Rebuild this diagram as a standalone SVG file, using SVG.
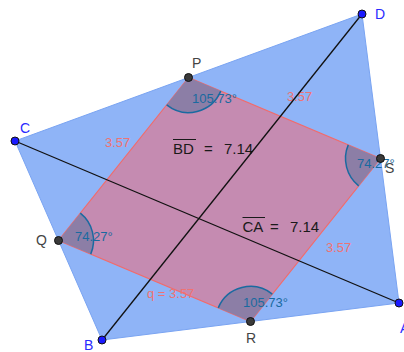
<svg xmlns="http://www.w3.org/2000/svg" width="404" height="352" viewBox="0 0 404 352">
<style>
  text { font-family: "Liberation Sans", Arial, sans-serif; }
  .outer { fill: #8fb4f7; stroke: #7aa4f2; stroke-width: 1; }
  .inner { fill: #c58bb1; stroke: #f26b6b; stroke-width: 1.2; }
  .sector { fill: #8c7ea6; stroke: none; }
  .arc { fill: none; stroke: #1a6aa0; stroke-width: 1.5; }
  .diag { stroke: #111; stroke-width: 1.3; }
  .len { fill: #f07272; font-size: 13px; }
  .ang { fill: #1a6aa0; font-size: 13px; }
  .eq { fill: #1a1a1a; font-size: 15px; }
  .ovl { stroke: #1a1a1a; stroke-width: 1; }
  .pv { fill: #1a1aff; stroke: #111; stroke-width: 1; }
  .pm { fill: #3a3a3a; stroke: #111; stroke-width: 1; }
  .lv { fill: #2a2aff; font-size: 14px; }
  .lm { fill: #444; font-size: 14px; }
</style>
<g id="shapes">
  <polygon class="outer" points="399,303 102,340 15,141 362,14"/>
  <polygon class="inner" points="188.5,77.5 58.5,240.5 250.5,321.5 380.5,158.5"/>
  <path class="sector" d="M188.5,77.5 L166.68,104.86 A35,35 0 0 0 220.75,91.1 Z"/>
  <path class="arc" d="M166.68,104.86 A35,35 0 0 0 220.75,91.1"/>
  <path class="sector" d="M58.5,240.5 L80.32,213.14 A35,35 0 0 1 90.75,254.1 Z"/>
  <path class="arc" d="M80.32,213.14 A35,35 0 0 1 90.75,254.1"/>
  <path class="sector" d="M250.5,321.5 L218.25,307.9 A35,35 0 0 1 272.32,294.14 Z"/>
  <path class="arc" d="M218.25,307.9 A35,35 0 0 1 272.32,294.14"/>
  <path class="sector" d="M380.5,158.5 L358.68,185.86 A35,35 0 0 1 348.25,144.9 Z"/>
  <path class="arc" d="M358.68,185.86 A35,35 0 0 1 348.25,144.9"/>
</g>
<g id="labels">
  <text class="len" x="105" y="147">3.57</text>
  <text class="len" x="287" y="101">3.57</text>
  <text class="len" x="326" y="252">3.57</text>
  <text class="len" x="147" y="298">q = 3.57</text>
  <text class="ang" x="192" y="103">105.73°</text>
  <text class="ang" x="357" y="168">74.27°</text>
  <text class="ang" x="75" y="241">74.27°</text>
  <text class="ang" x="243" y="307">105.73°</text>
  <text class="eq" x="173" y="154">BD</text>
  <line class="ovl" x1="173" y1="139.5" x2="196" y2="139.5"/>
  <text class="eq" x="204" y="154">=</text>
  <text class="eq" x="224" y="154">7.14</text>
  <text class="eq" x="242.5" y="232">CA</text>
  <line class="ovl" x1="242.5" y1="217.5" x2="265" y2="217.5"/>
  <text class="eq" x="270" y="232">=</text>
  <text class="eq" x="290" y="232">7.14</text>
</g>
<g id="connectors">
  <line class="diag" x1="15" y1="141" x2="399" y2="303"/>
  <line class="diag" x1="102" y1="340" x2="362" y2="14"/>
</g>
<g id="node-A"><circle class="pv" cx="399" cy="303" r="4"/><text class="lv" x="400" y="333">A</text></g>
<g id="node-B"><circle class="pv" cx="102" cy="340" r="4"/><text class="lv" x="84" y="350">B</text></g>
<g id="node-C"><circle class="pv" cx="15" cy="141" r="4"/><text class="lv" x="20" y="133">C</text></g>
<g id="node-D"><circle class="pv" cx="362" cy="14" r="4"/><text class="lv" x="375" y="19">D</text></g>
<g id="node-P"><circle class="pm" cx="188.5" cy="77.5" r="4"/><text class="lm" x="192" y="68">P</text></g>
<g id="node-Q"><circle class="pm" cx="58.5" cy="240.5" r="4"/><text class="lm" x="36" y="245">Q</text></g>
<g id="node-R"><circle class="pm" cx="250.5" cy="321.5" r="4"/><text class="lm" x="246" y="343">R</text></g>
<g id="node-S"><circle class="pm" cx="380.5" cy="158.5" r="4"/><text class="lm" x="385" y="173">S</text></g>
</svg>
